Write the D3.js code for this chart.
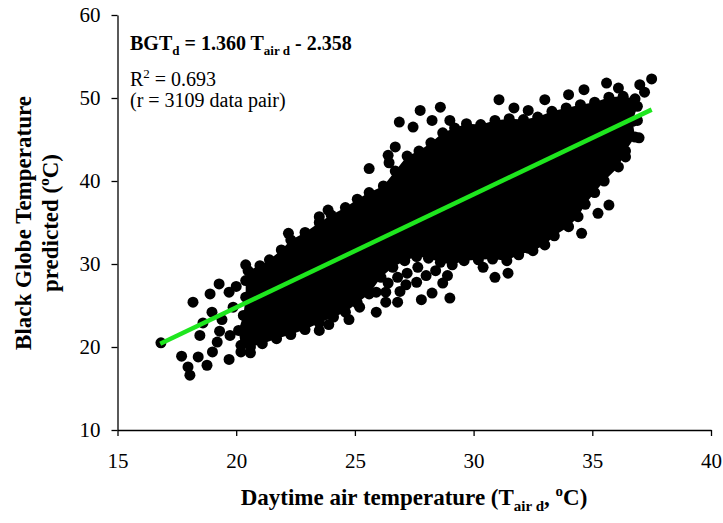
<!DOCTYPE html>
<html>
<head>
<meta charset="utf-8">
<script src="https://cdn.jsdelivr.net/npm/d3@7"></script>
<style>
  body { margin: 0; background: #fff; }
  text { font-family: "Liberation Serif", "Times New Roman", serif; }
</style>
</head>
<body>
<div id="chart"></div>
<script>
const xTicks = [15, 20, 25, 30, 35, 40];
const yTicks = [10, 20, 30, 40, 50, 60];

// regression line end points (Tair, BGT)
const fitLine = [[16.8, 20.4], [37.5, 48.6]];

// outline of the dense part of the cloud (centres of the outermost dots)
const cloudEdge = [
  [20.2, 20.2], [20.1, 22.0], [20.3, 23.8], [20.4, 26.0], [20.4, 28.0],
  [20.5, 29.2], [21.0, 29.8], [21.4, 30.5], [21.9, 31.7], [22.3, 32.9],
  [22.9, 33.8], [23.5, 35.0], [24.0, 35.9], [24.6, 36.8], [25.1, 37.8],
  [25.6, 38.6], [26.2, 39.4], [26.7, 41.2], [27.2, 43.0], [27.7, 43.6],
  [28.2, 44.6], [28.7, 45.8], [29.2, 46.4], [29.7, 46.9], [30.3, 46.8],
  [30.9, 47.3], [31.5, 47.5], [32.1, 47.4], [32.7, 47.7], [33.3, 48.4],
  [33.9, 48.8], [34.5, 49.2], [35.1, 49.5], [35.7, 50.1], [36.3, 50.2],
  [36.8, 49.9], [36.9, 49.0], [36.7, 47.2], [36.8, 45.3], [36.4, 43.6],
  [36.1, 41.7], [35.5, 40.0], [35.1, 38.6], [34.7, 37.2], [34.4, 35.7],
  [34.0, 34.5], [33.4, 33.4], [33.0, 32.3], [32.5, 31.6], [31.9, 31.1],
  [31.4, 30.4], [30.8, 30.6], [30.2, 30.5], [29.6, 30.4], [29.1, 29.9],
  [28.6, 30.2], [28.1, 30.7], [27.6, 30.9], [27.1, 30.4], [26.6, 29.6],
  [26.1, 28.4], [25.6, 26.4], [25.1, 25.3], [24.6, 24.2], [24.1, 23.6],
  [23.5, 22.9], [22.9, 22.1], [22.3, 21.5], [21.7, 21.0], [21.1, 20.4],
  [20.6, 20.0]
];

// loose dots around the cloud
const scatterPoints = [
  [16.83, 20.5], [17.7, 18.9], [17.97, 17.6], [18.05, 16.6], [18.4, 18.8],
  [18.77, 17.8], [19.0, 19.4], [19.7, 18.5], [19.2, 20.6], [19.74, 21.4],
  [19.3, 21.9], [18.47, 21.4], [18.6, 22.9], [18.98, 24.2], [19.4, 23.3],
  [19.87, 24.8], [18.18, 25.4], [18.9, 26.4], [19.28, 27.6], [19.7, 26.6],
  [20.0, 27.3], [20.4, 29.9], [20.6, 19.3], [20.2, 19.4],
  [22.2, 33.7], [23.5, 35.7], [23.87, 36.5], [25.6, 41.5], [26.4, 43.1],
  [26.44, 42.2], [26.7, 44.1], [26.87, 47.1], [27.45, 46.5], [27.75, 48.5],
  [28.25, 47.3], [28.6, 48.9], [29.0, 47.3], [31.07, 49.8], [31.7, 48.8],
  [32.3, 48.5], [33.0, 49.8], [34.0, 50.4], [34.65, 51.0], [35.6, 51.8],
  [36.1, 51.2], [37.0, 51.6], [37.5, 52.3], [37.2, 50.7], [36.9, 47.3],
  [36.97, 45.2], [36.4, 42.9],
  [35.7, 37.1], [35.24, 36.1], [34.55, 33.7], [32.3, 31.9], [31.45, 28.9],
  [30.9, 28.4], [30.4, 29.6], [29.0, 25.9], [28.7, 27.7], [28.25, 26.5],
  [27.8, 25.7], [27.65, 29.6], [27.15, 27.5], [26.8, 25.4], [26.3, 25.4],
  [25.9, 24.2], [26.4, 27.7], [25.2, 24.8], [24.75, 23.3], [23.9, 22.7],
  [23.5, 22.0], [25.9, 26.6], [26.3, 26.6], [26.8, 28.4], [27.2, 28.9],
  [28.0, 28.6], [28.4, 29.2], [28.9, 28.6], [27.6, 27.8], [26.9, 26.7]
];

const width = 723;
const height = 523;

const x = d3.scaleLinear().domain([15, 40]).range([117.5, 711]);
const y = d3.scaleLinear().domain([10, 60]).range([430, 15]);

const svg = d3.select('#chart')
  .append('svg')
  .attr('width', width)
  .attr('height', height);

// cloud body
svg.append('path')
  .datum(cloudEdge)
  .attr('d', d3.line().x(d => x(d[0])).y(d => y(d[1])).curve(d3.curveLinearClosed))
  .attr('fill', '#000');

// dots
svg.append('g')
  .selectAll('circle')
  .data(cloudEdge.concat(scatterPoints))
  .enter()
  .append('circle')
  .attr('cx', d => x(d[0]))
  .attr('cy', d => y(d[1]))
  .attr('r', 5.5)
  .attr('fill', '#000');

// regression line
svg.append('path')
  .datum(fitLine)
  .attr('d', d3.line().x(d => x(d[0])).y(d => y(d[1])))
  .attr('stroke', '#1ee61e')
  .attr('stroke-width', 4.5)
  .attr('fill', 'none');

// axes
const xAxis = svg.append('g')
  .attr('transform', 'translate(0,430)')
  .call(d3.axisBottom(x).tickValues(xTicks).tickSize(6).tickSizeOuter(0));

const yAxis = svg.append('g')
  .attr('transform', 'translate(117.5,0)')
  .call(d3.axisLeft(y).tickValues(yTicks).tickSize(6).tickSizeOuter(0).tickPadding(11));

[xAxis, yAxis].forEach(function (g) {
  g.selectAll('path, line').attr('stroke', '#000').attr('stroke-width', 1.3);
  g.selectAll('text')
    .attr('font-family', '"Liberation Serif", "Times New Roman", serif')
    .attr('font-size', 21)
    .attr('fill', '#000');
});
xAxis.selectAll('text').attr('y', 38).attr('dy', 0);

// annotation
const note = svg.append('g').attr('font-size', 20).attr('fill', '#000');

const l1 = note.append('text').attr('x', 130).attr('y', 50).attr('font-weight', 'bold');
l1.append('tspan').text('BGT');
l1.append('tspan').attr('font-size', 13).attr('dy', 5).text('d');
l1.append('tspan').attr('dy', -5).text(' = 1.360 T');
l1.append('tspan').attr('font-size', 13).attr('dy', 5).text('air d');
l1.append('tspan').attr('dy', -5).text(' - 2.358');

const l2 = note.append('text').attr('x', 130).attr('y', 86);
l2.append('tspan').text('R');
l2.append('tspan').attr('font-size', 13).attr('dy', -8).text('2');
l2.append('tspan').attr('dy', 8).text(' = 0.693');

note.append('text').attr('x', 130).attr('y', 107).text('(r = 3109 data pair)');

// x title
const xt = svg.append('text')
  .attr('x', 414)
  .attr('y', 505)
  .attr('text-anchor', 'middle')
  .attr('font-size', 23)
  .attr('font-weight', 'bold');
xt.append('tspan').text('Daytime air temperature (T');
xt.append('tspan').attr('font-size', 15).attr('dy', 6).text('air d');
xt.append('tspan').attr('dy', -6).text(', ');
xt.append('tspan').attr('font-size', 15).attr('dy', -9).text('o');
xt.append('tspan').attr('dy', 9).text('C)');

// y title
const yt = svg.append('text')
  .attr('transform', 'translate(31,223) rotate(-90)')
  .attr('text-anchor', 'middle')
  .attr('font-size', 23)
  .attr('font-weight', 'bold');
yt.append('tspan').attr('x', 0).attr('y', 0).text('Black Globe Temperature');
const yt2 = svg.append('text')
  .attr('transform', 'translate(58,223) rotate(-90)')
  .attr('text-anchor', 'middle')
  .attr('font-size', 23)
  .attr('font-weight', 'bold');
yt2.append('tspan').text('predicted (');
yt2.append('tspan').attr('font-size', 15).attr('dy', -9).text('o');
yt2.append('tspan').attr('dy', 9).text('C)');
</script>
</body>
</html>
